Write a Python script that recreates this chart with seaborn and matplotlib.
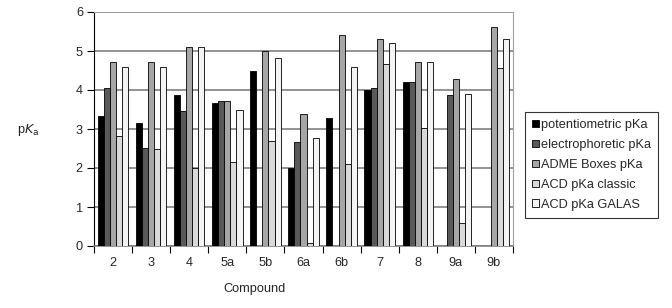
import numpy as np
import pandas as pd
import matplotlib
matplotlib.use("Agg")
import matplotlib.pyplot as plt
import seaborn as sns

compounds = ["2", "3", "4", "5a", "5b", "6a", "6b", "7", "8", "9a", "9b"]
potentiometric = [3.34, 3.16, 3.88, 3.67, 4.48, 2.01, 3.27, 4.01, 4.20, np.nan, np.nan]
electrophoretic = [4.04, 2.52, 3.47, 3.71, np.nan, 2.67, np.nan, 4.04, 4.20, 3.86, np.nan]
adme_boxes = [4.71, 4.71, 5.11, 3.71, 5.01, 3.39, 5.40, 5.32, 4.71, 4.29, 5.61]
acd_classic = [2.83, 2.48, 2.01, 2.16, 2.70, 0.07, 2.09, 4.66, 3.02, 0.58, 4.57]
acd_galas = [4.60, 4.60, 5.11, 3.50, 4.81, 2.78, 4.60, 5.21, 4.71, 3.91, 5.32]

series_names = ["potentiometric pKa", "electrophoretic pKa", "ADME Boxes pKa",
                "ACD pKa classic", "ACD pKa GALAS"]
series_values = [potentiometric, electrophoretic, adme_boxes, acd_classic, acd_galas]
colors = ["#000000", "#595959", "#a6a6a6", "#d9d9d9", "#f4f4f4"]

rows = []
for name, vals in zip(series_names, series_values):
    for c, v in zip(compounds, vals):
        rows.append({"Compound": c, "pKa": v, "Series": name})
df = pd.DataFrame(rows)

sns.set_theme(style="white")
plt.rcParams["font.family"] = ["Liberation Sans", "DejaVu Sans"]
FS = 9.2

fig = plt.figure(figsize=(6.72, 3.08), dpi=100)
ax = fig.add_axes([94 / 672, 1 - 246 / 308, (513 - 94) / 672, (246 - 12) / 308])

sns.barplot(data=df, x="Compound", y="pKa", hue="Series", order=compounds,
            hue_order=series_names, palette=colors, width=0.8, gap=0,
            edgecolor="black", linewidth=0.6, errorbar=None, ax=ax, zorder=3)

ax.set_ylim(0, 6)
ax.set_xlim(-0.5, len(compounds) - 0.5)
ax.set_yticks(range(0, 7))
ax.yaxis.grid(True, color="#808080", linewidth=1.2, zorder=0)
ax.set_axisbelow(True)

# x ticks at group boundaries
ax.set_xticks(np.arange(-0.5, len(compounds) + 0.5, 1), minor=False)
ax.set_xticklabels([])
ax.set_xticks(np.arange(len(compounds)), minor=True)
ax.set_xticklabels(compounds, minor=True)
ax.tick_params(axis="x", which="major", direction="out", length=5, width=0.8, color="black")
ax.tick_params(axis="x", which="minor", length=0, labelsize=FS, pad=8)
ax.tick_params(axis="y", direction="out", length=5, width=0.8, color="black", labelsize=FS, pad=3)
ax.tick_params(left=True, bottom=True)

for s in ["top", "right"]:
    ax.spines[s].set_color("#a0a0a0")
    ax.spines[s].set_linewidth(0.8)
ax.spines["left"].set_color("black")
ax.spines["left"].set_linewidth(0.8)
ax.spines["bottom"].set_color("#808080")
ax.spines["bottom"].set_linewidth(1.2)

ax.set_xlabel("")
ax.set_ylabel("")
fig.text(255 / 672, 1 - 289 / 308, "Compound", fontsize=FS, ha="center", va="center")
fig.text(28 / 672, 1 - 130 / 308, r"p$\it{K}$$_{\rm a}$", fontsize=FS, ha="center", va="center")

handles, labels = ax.get_legend_handles_labels()
leg = ax.legend(handles, labels, loc="center left", bbox_to_anchor=(525 / 672, 1 - 165 / 308),
                bbox_transform=fig.transFigure, frameon=True, fancybox=False,
                fontsize=FS, handlelength=0.55, handleheight=0.55, handletextpad=0.15,
                labelspacing=0.62, borderpad=0.55, borderaxespad=0)
leg.get_frame().set_edgecolor("black")
leg.get_frame().set_linewidth(0.8)
for h in leg.legend_handles:
    h.set_linewidth(0.6)

fig.savefig("out.png", dpi=100)
